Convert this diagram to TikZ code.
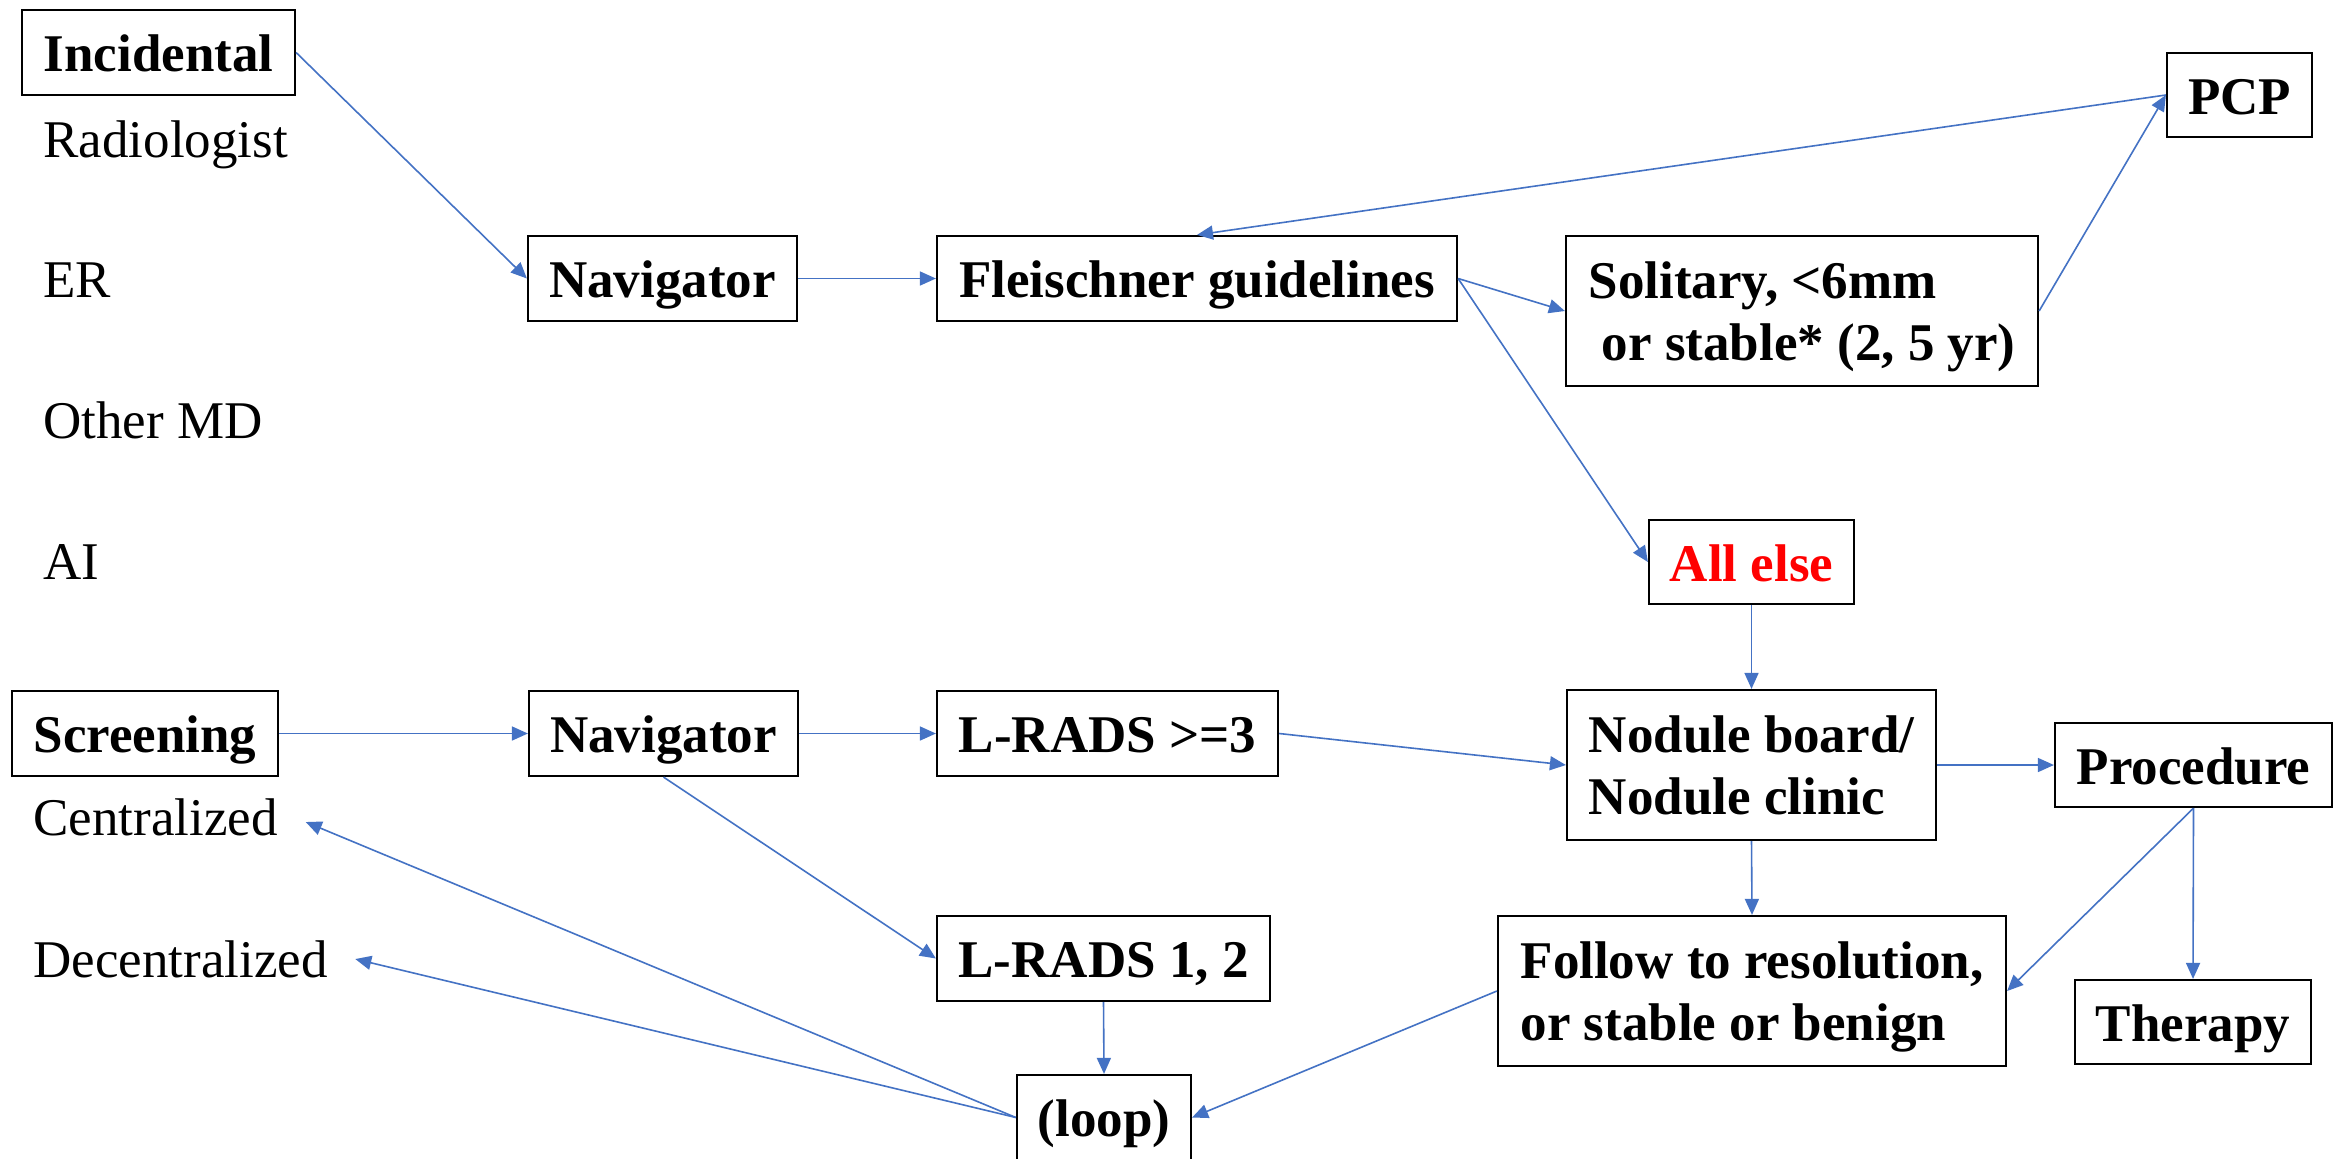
\documentclass[tikz,border=0pt]{standalone}
\usepackage{fontspec}
\setmainfont{Liberation Serif}
\usetikzlibrary{arrows.meta}
\definecolor{arrowblue}{HTML}{4472C4}
\definecolor{alertred}{HTML}{FF0000}
\begin{document}
\begin{tikzpicture}[x=0.5pt,y=-0.5pt,
  box/.style={draw=black, line width=1.1pt, inner sep=0pt, align=center,
    text height=23pt, text depth=4pt,
    font=\fontsize{26.5}{31}\selectfont\bfseries},
  tbox/.style={draw=black, line width=1.1pt, inner sep=0pt, align=left,
    text depth=0pt,
    font=\fontsize{26.5}{31}\selectfont\bfseries},
  lbl/.style={inner sep=0pt, anchor=base west, text height=24.5pt, text depth=0pt,
    font=\fontsize{26.5}{31}\selectfont},
  arr/.style={draw=arrowblue, line width=0.8pt, -{Triangle[length=8pt,width=7pt]}}
]
\fill[white] (0,0) rectangle (2333,1158);
\useasboundingbox (0,0) rectangle (2333,1158);

% top section
\node[box, minimum width=136.5pt, minimum height=42.5pt] (incid) at (158.5,52.5) {Incidental};
\node[lbl] (radio) at (43,157) {Radiologist};
\node[lbl] (er) at (43,297) {ER};
\node[lbl] (othermd) at (43,438) {Other MD};
\node[lbl] (ai) at (43,579) {AI};

\node[box, minimum width=134.5pt, minimum height=42.5pt] (navA) at (662.5,278.5) {Navigator};
\node[box, minimum width=260pt, minimum height=42.5pt] (fleis) at (1197,278.5) {Fleischner guidelines};
\node[tbox, minimum width=236pt, minimum height=75pt] (solit) at (1802,311) {Solitary, {<}6mm\\\hspace*{0.25em}or stable* (2, 5 yr)};
\node[box, minimum width=72.5pt, minimum height=42pt] (pcp) at (2239.5,95) {PCP};
\node[box, minimum width=102.5pt, minimum height=42pt, text=alertred] (allelse) at (1751.5,562) {All else};

% bottom section
\node[box, minimum width=133pt, minimum height=42.5pt] (screen) at (145,733.5) {Screening};
\node[lbl] (central) at (33,835) {Centralized};
\node[lbl] (decentral) at (33,977) {Decentralized};
\node[box, minimum width=134.5pt, minimum height=42.5pt] (navB) at (663.5,733.5) {Navigator};
\node[box, minimum width=170.5pt, minimum height=42.5pt] (lr3) at (1107.5,733.5) {L-RADS {>}=3};
\node[box, minimum width=166.5pt, minimum height=42.5pt] (lr12) at (1103.5,958.5) {L-RADS 1, 2};
\node[box, minimum width=87pt, minimum height=42.5pt] (loop) at (1104,1117.5) {(loop)};
\node[tbox, minimum width=184.5pt, minimum height=75pt] (nodule) at (1751.5,765) {Nodule board/\\Nodule clinic};
\node[box, minimum width=138.5pt, minimum height=42pt] (proc) at (2193.5,765) {Procedure};
\node[tbox, minimum width=254pt, minimum height=75pt] (follow) at (1752,991) {Follow to resolution,\\or stable or benign};
\node[box, minimum width=118pt, minimum height=42pt] (ther) at (2193,1022) {Therapy};

% connectors
\draw[arr] (incid.east) -- (navA.west);
\draw[arr] (navA.east) -- (fleis.west);
\draw[arr] (pcp.west) -- (fleis.north);
\draw[arr] (fleis.east) -- (solit.west);
\draw[arr] (fleis.east) -- (allelse.west);
\draw[arr] (solit.east) -- (pcp.west);
\draw[arr] (allelse.south) -- (nodule.north);
\draw[arr] (screen.east) -- (navB.west);
\draw[arr] (navB.east) -- (lr3.west);
\draw[arr] (lr3.east) -- (nodule.west);
\draw[arr] (navB.south) -- (lr12.west);
\draw[arr] (lr12.south) -- (loop.north);
\draw[arr] (nodule.east) -- (proc.west);
\draw[arr] (nodule.south) -- (follow.north);
\draw[arr] (proc.south) -- (follow.east);
\draw[arr] (proc.south) -- (ther.north);
\draw[arr] (follow.west) -- (loop.east);
\draw[arr, shorten >=15pt] (loop.west) -- (central.east);
\draw[arr, shorten >=14pt] (loop.west) -- (decentral.east);
\end{tikzpicture}
\end{document}
